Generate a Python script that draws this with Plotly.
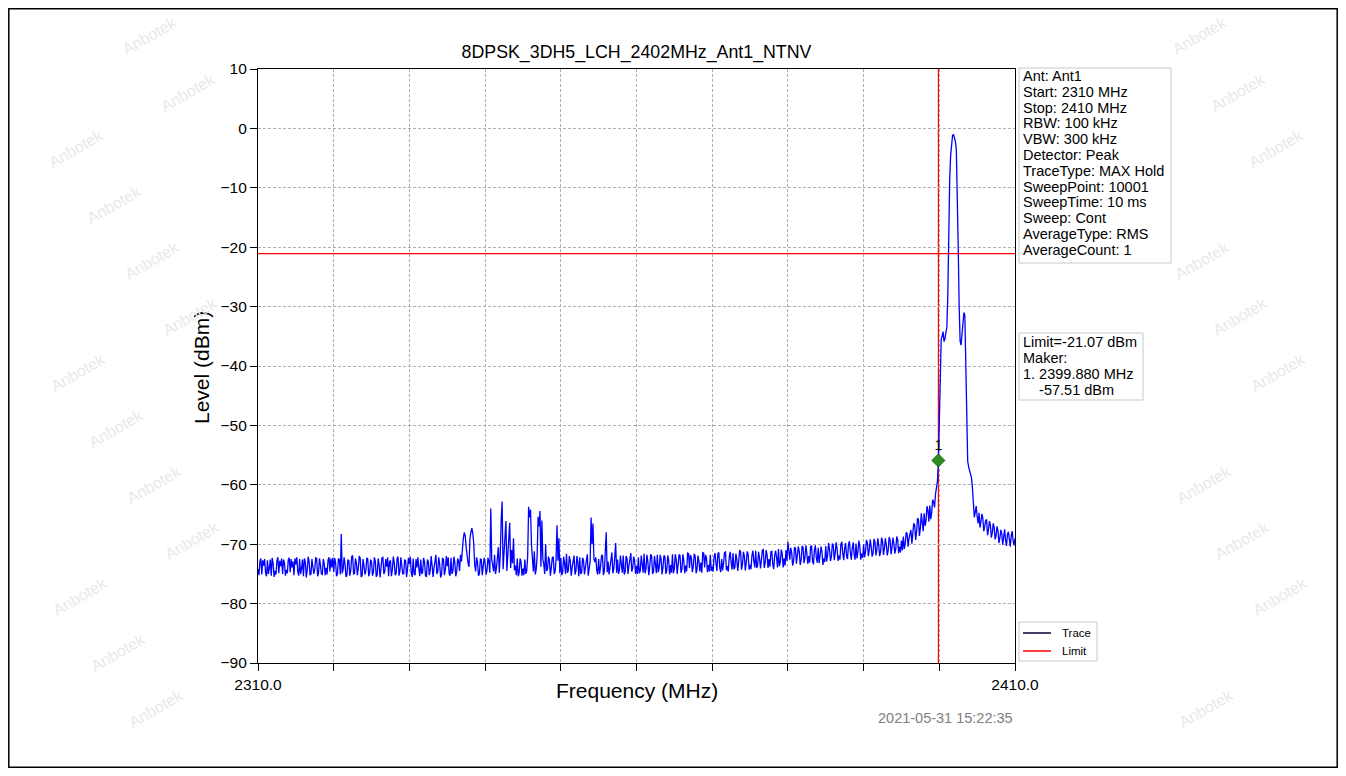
import plotly.graph_objects as go

# ---------------- data ----------------
title_text = "8DPSK_3DH5_LCH_2402MHz_Ant1_NTNV"
freq_start = 2310.0
freq_stop = 2410.0
freq_step = 0.125  # MHz between listed trace points

# trace levels (dBm) on the 0.25 MHz grid, one row per 5 MHz, last value at 2410 MHz
level_rows = [
    [-74.2, -72.9, -75.1, -73.6, -74.8, -72.7, -74.0, -75.3, -73.2, -74.5, -72.8, -74.9, -73.7, -75.0, -73.1, -74.3, -72.6, -74.7, -73.9, -75.2],
    [-73.4, -74.6, -72.5, -74.1, -75.4, -73.0, -74.4, -72.9, -75.0, -73.8, -74.2, -72.4, -74.8, -73.5, -75.1, -73.3, -74.0, -72.7, -74.6, -73.9],
    [-74.7, -73.1, -75.0, -72.6, -68.3, -74.2, -73.4, -75.2, -72.8, -74.5, -71.9, -74.9, -73.2, -74.1, -72.3, -75.3, -73.6, -74.4, -72.5, -74.8],
    [-73.0, -74.7, -72.9, -75.1, -73.5, -74.0, -72.2, -74.6, -73.8, -75.4, -72.7, -74.3, -73.1, -74.9, -72.1, -74.5, -73.7, -75.0, -72.8, -74.2],
    [-73.3, -74.8, -72.4, -75.2, -73.9, -74.1, -72.6, -74.7, -73.0, -75.5, -72.9, -74.4, -73.6, -74.0, -71.8, -74.6, -73.4, -75.1, -72.5, -74.3],
    [-73.7, -74.9, -72.3, -74.5, -73.1, -74.6, -72.8, -71.8, -70.2, -68.0, -70.5, -73.2, -69.0, -67.3, -69.8, -74.6, -73.0, -75.0, -72.6, -74.1],
    [-73.2, -74.4, -72.9, -64.0, -73.5, -71.8, -74.0, -70.5, -72.0, -62.8, -71.5, -66.1, -72.3, -66.4, -71.0, -69.0, -73.6, -72.4, -74.8, -73.0],
    [-74.1, -72.6, -74.5, -63.7, -64.2, -73.0, -71.2, -74.3, -65.4, -64.4, -66.0, -73.4, -70.0, -74.2, -72.7, -73.9, -72.1, -74.6, -66.8, -69.0],
    [-72.3, -74.7, -73.2, -71.6, -74.4, -72.8, -73.9, -71.9, -74.5, -73.1, -72.2, -74.8, -72.7, -73.6, -71.7, -74.2, -65.5, -66.5, -73.0, -74.4],
    [-72.5, -73.8, -71.8, -74.6, -68.0, -72.9, -73.5, -71.4, -74.1, -69.8, -72.6, -74.3, -73.0, -71.9, -74.7, -72.4, -73.6, -71.5, -74.0, -72.8],
    [-73.7, -72.2, -74.5, -73.0, -71.6, -74.2, -72.9, -73.8, -72.0, -74.6, -73.3, -71.8, -74.0, -72.5, -73.9, -72.1, -74.4, -72.7, -73.5, -71.7],
    [-74.1, -72.6, -73.4, -71.9, -74.3, -72.8, -73.6, -71.5, -74.0, -72.3, -73.7, -72.0, -74.2, -72.9, -73.1, -71.4, -73.9, -72.4, -73.5, -71.8],
    [-73.8, -72.1, -73.3, -71.6, -74.0, -72.5, -73.2, -71.3, -73.7, -72.2, -73.0, -71.5, -73.9, -72.6, -72.9, -71.2, -73.4, -72.0, -73.1, -71.7],
    [-73.5, -71.9, -72.8, -71.1, -73.6, -72.3, -72.7, -70.9, -73.2, -71.8, -72.5, -71.3, -73.4, -72.0, -72.2, -70.8, -73.0, -71.6, -72.4, -71.0],
    [-69.6, -72.6, -71.4, -72.9, -70.7, -72.1, -71.2, -72.7, -70.5, -72.3, -71.5, -72.0, -70.4, -72.8, -71.0, -72.2, -70.6, -71.9, -71.3, -72.4],
    [-70.3, -71.8, -70.9, -72.1, -70.2, -71.5, -70.8, -71.9, -70.0, -71.6, -70.7, -72.0, -70.1, -71.4, -70.6, -71.7, -69.9, -71.2, -70.5, -71.6],
    [-70.0, -71.3, -69.8, -71.0, -70.4, -71.5, -69.6, -70.9, -70.2, -71.2, -69.5, -70.7, -70.1, -71.0, -69.3, -70.5, -69.9, -70.8, -69.2, -70.4],
    [-69.4, -68.7, -69.9, -68.2, -69.0, -67.6, -68.5, -66.8, -67.9, -65.9, -67.2, -66.4, -64.8, -66.0, -64.3, -63.5, -64.6, -62.9, -61.5, -59.5],
    [-50.0, -35.5, -34.2, -35.4, -33.5, -16.0, -4.5, -1.2, -1.6, -3.6, -20.0, -35.8, -34.5, -31.0, -38.0, -56.0, -57.5, -58.8, -63.8, -64.6],
    [-65.3, -64.7, -66.2, -65.6, -67.0, -65.9, -67.5, -66.8, -68.1, -67.2, -68.6, -67.7, -69.0, -68.2, -68.8, -69.3, -68.4, -69.1, -68.6, -69.4],
]
level_last = -69.0

# levels read half-way between the grid points above (x.125, x.375, ...), same row layout
level_mid_rows = [
    [-75.2, -72.4, -72.7, -72.5, -75.4, -75.0, -72.6, -72.3, -75.5, -75.1, -72.2, -72.8, -72.4, -72.6, -75.3, -74.9, -72.3, -72.5, -72.9, -72.4],
    [-72.2, -75.3, -75.0, -72.6, -72.4, -75.6, -72.1, -75.2, -72.5, -75.0, -72.3, -75.4, -72.4, -75.0, -72.5, -75.2, -75.1, -72.2, -72.4, -72.3],
    [-72.3, -75.4, -72.4, -75.1, -74.9, -72.2, -75.5, -72.6, -75.3, -72.1, -75.0, -72.4, -75.2, -72.0, -75.5, -72.5, -75.1, -72.3, -75.4, -72.6],
    [-75.3, -72.2, -75.5, -72.4, -75.6, -72.3, -75.0, -72.5, -72.2, -73.0, -75.4, -72.1, -75.2, -72.4, -75.3, -72.2, -75.0, -72.6, -75.5, -72.3],
    [-72.1, -75.5, -75.0, -72.5, -72.2, -75.4, -75.0, -72.3, -75.3, -72.6, -75.2, -72.0, -75.5, -72.3, -75.0, -72.2, -75.6, -72.4, -75.2, -72.0],
    [-72.2, -75.3, -75.0, -72.1, -75.4, -72.4, -74.5, -72.9, -69.0, -68.6, -72.4, -73.8, -68.0, -68.2, -73.5, -72.2, -75.3, -72.5, -75.2, -72.3],
    [-75.1, -72.3, -74.8, -72.5, -74.6, -75.0, -72.2, -74.8, -66.0, -74.2, -70.0, -74.5, -68.5, -74.0, -73.2, -74.4, -75.2, -75.4, -72.4, -75.3],
    [-75.2, -75.0, -72.0, -65.5, -70.0, -74.6, -75.1, -72.0, -67.0, -73.8, -72.5, -75.0, -74.5, -72.1, -75.3, -72.3, -75.0, -72.5, -72.8, -74.9],
    [-75.2, -72.1, -75.0, -74.8, -72.0, -75.3, -72.4, -75.1, -72.0, -75.4, -75.0, -72.3, -75.1, -72.2, -75.3, -72.9, -70.0, -72.5, -72.2, -75.1],
    [-75.0, -72.0, -75.2, -72.0, -74.7, -75.1, -72.1, -74.9, -72.2, -74.8, -75.0, -71.9, -74.8, -75.1, -72.0, -75.0, -72.0, -74.6, -72.1, -75.0],
    [-75.0, -74.9, -71.9, -74.8, -74.9, -71.8, -75.2, -71.7, -75.0, -72.0, -74.9, -74.7, -71.8, -75.1, -71.9, -75.0, -71.9, -75.1, -74.8, -74.9],
    [-71.7, -75.0, -71.8, -74.8, -71.7, -74.9, -74.6, -71.6, -71.8, -74.7, -71.6, -74.9, -71.9, -74.6, -74.8, -71.5, -71.8, -74.7, -74.6, -74.5],
    [-74.6, -71.5, -74.5, -71.4, -74.7, -74.4, -71.4, -74.4, -74.6, -71.3, -74.3, -74.2, -71.6, -74.5, -71.1, -74.3, -71.3, -74.4, -71.2, -74.3],
    [-74.2, -71.1, -73.9, -74.0, -71.3, -74.1, -71.0, -74.0, -71.0, -74.0, -73.8, -71.2, -74.2, -71.1, -73.9, -73.7, -70.9, -73.9, -73.6, -72.8],
    [-71.9, -70.6, -73.6, -70.5, -73.3, -70.4, -73.5, -70.3, -73.2, -70.2, -73.3, -73.1, -70.3, -73.4, -70.2, -73.1, -73.2, -70.4, -73.5, -73.0],
    [-72.9, -69.8, -72.8, -69.9, -72.7, -69.7, -72.8, -72.6, -69.6, -72.7, -69.8, -72.5, -69.5, -72.6, -69.7, -72.6, -72.4, -69.4, -72.6, -72.3],
    [-72.2, -69.3, -72.0, -69.2, -72.1, -69.1, -71.9, -69.0, -72.0, -68.9, -71.8, -69.0, -71.9, -68.8, -71.7, -68.9, -71.6, -68.7, -71.5, -71.4],
    [-71.0, -70.8, -68.0, -70.4, -68.0, -69.9, -66.5, -69.3, -65.6, -68.6, -64.8, -67.8, -66.9, -63.6, -66.2, -65.8, -62.5, -63.8, -60.4, -56.5],
    [-40.0, -35.0, -35.9, -34.3, -28.0, -8.5, -2.0, -1.0, -2.2, -10.0, -30.0, -36.5, -32.5, -31.5, -48.0, -57.0, -58.0, -60.5, -65.5, -63.6],
    [-66.5, -67.2, -64.9, -67.8, -66.0, -68.5, -66.1, -68.9, -66.5, -69.2, -67.0, -69.8, -67.6, -70.1, -67.5, -70.3, -67.9, -70.4, -67.8, -70.2],
]

limit_level = -21.07
marker_freq = 2399.88
marker_plot_level = -55.9
marker_label = "1"

x_tick_values = [2310, 2320, 2330, 2340, 2350, 2360, 2370, 2380, 2390, 2400, 2410]
x_tick_labels = ["2310.0", "", "", "", "", "", "", "", "", "", "2410.0"]
y_tick_values = [-90, -80, -70, -60, -50, -40, -30, -20, -10, 0, 10]
y_tick_labels = ["\u221290", "\u221280", "\u221270", "\u221260", "\u221250", "\u221240",
                 "\u221230", "\u221220", "\u221210", "0", "10"]

info_lines = ["Ant: Ant1", "Start: 2310 MHz", "Stop: 2410 MHz", "RBW: 100 kHz", "VBW: 300 kHz",
              "Detector: Peak", "TraceType: MAX Hold", "SweepPoint: 10001", "SweepTime: 10 ms",
              "Sweep: Cont", "AverageType: RMS", "AverageCount: 1"]
marker_lines = ["Limit=-21.07 dBm", "Maker:", "1. 2399.880 MHz", "    -57.51 dBm"]
legend_names = ["Trace", "Limit"]
x_title = "Frequency (MHz)"
y_title = "Level (dBm)"
timestamp = "2021-05-31 15:22:35"
watermark = "Anbotek"

# ---------------- build ----------------
levels = []
for row, mid_row in zip(level_rows, level_mid_rows):
    for a, b in zip(row, mid_row):
        levels.extend([a, b])
levels.append(level_last)
freqs = [freq_start + i * freq_step for i in range(len(levels))]

FONT = "Liberation Sans, Arial, sans-serif"
OFF = 8                      # page margin of the html body
W, H = 1346 - 2 * OFF, 776 - 2 * OFF
# plot area in page pixels
PL, PR, PT, PB = 258, 1015, 69, 663


def px(xp):
    return (xp - PL) / (PR - PL)


def py(yp):
    return (PB - yp) / (PB - PT)


fig = go.Figure()

fig.add_trace(go.Scatter(x=freqs, y=levels, mode="lines", name=legend_names[0],
                         line=dict(color="#0000ff", width=1.3), showlegend=False,
                         hoverinfo="skip"))
fig.add_trace(go.Scatter(x=[marker_freq], y=[marker_plot_level], mode="markers+text",
                         text=[marker_label], textposition="top center",
                         textfont=dict(family=FONT, size=14, color="black"),
                         marker=dict(symbol="diamond", size=10, color="#2e8b22",
                                     line=dict(color="#1f6a17", width=1)),
                         showlegend=False))

annotations = []
shapes = []

# limit line and marker line (data coordinates)
shapes.append(dict(type="line", xref="x", yref="y", x0=freq_start, x1=freq_stop,
                   y0=limit_level, y1=limit_level, line=dict(color="#ff0000", width=1.2), layer="above"))
shapes.append(dict(type="line", xref="x", yref="y", x0=marker_freq, x1=marker_freq,
                   y0=y_tick_values[0], y1=y_tick_values[-1], line=dict(color="#ff0000", width=1.2),
                   layer="below"))


def text_at(x, y, text, size, color="black", xanchor="left", angle=0):
    annotations.append(dict(xref="paper", yref="paper", x=px(x), y=py(y), xanchor=xanchor,
                            yanchor="middle", text=text, showarrow=False, textangle=angle,
                            font=dict(family=FONT, size=size, color=color)))


# info box
shapes.append(dict(type="rect", xref="paper", yref="paper", x0=px(1019), x1=px(1171), y0=py(263), y1=py(68),
                   line=dict(color="#c8c8c8", width=1), fillcolor="white", layer="above"))
for i, line in enumerate(info_lines):
    text_at(1021, 76 + 15.8 * i, line, 14.5)

# marker box
shapes.append(dict(type="rect", xref="paper", yref="paper", x0=px(1019), x1=px(1143), y0=py(400), y1=py(333),
                   line=dict(color="#c8c8c8", width=1), fillcolor="white", layer="above"))
for i, line in enumerate(marker_lines):
    text_at(1021, 342 + 16.1 * i, line.replace(" ", "&nbsp;") if line.startswith(" ") else line, 14.5)

# legend box
shapes.append(dict(type="rect", xref="paper", yref="paper", x0=px(1019), x1=px(1097), y0=py(661), y1=py(622),
                   line=dict(color="#c8c8c8", width=1), fillcolor="white", layer="above"))
legend_colors = ["#000033", "#ff0000"]
for i, (name, col) in enumerate(zip(legend_names, legend_colors)):
    yy = 633 + 18 * i
    shapes.append(dict(type="line", xref="paper", yref="paper", x0=px(1023), x1=px(1051), y0=py(yy), y1=py(yy),
                       line=dict(color=col, width=1.5), layer="above"))
    text_at(1060, yy, name, 11.5)

# axis titles and timestamp
text_at((PL + PR) / 2, 690, x_title, 21, xanchor="center")
text_at(201, 368, y_title, 21, xanchor="center", angle=-90)
text_at(1015, 718, timestamp, 14.5, color="#808080", xanchor="right")

# faint watermark in the margins (kept fully inside the frame)
for j in range(13):
    yy = 36 + 56 * j
    for k in range(-1, 11):
        xx = (38 * j) % 150 + 150 * k
        inside = 200 < xx < 1185 and 30 < yy < 712
        if inside or xx < 55 or xx > 1295 or yy > 740:
            continue
        annotations.append(dict(xref="paper", yref="paper", x=px(xx), y=py(yy), xanchor="center",
                                yanchor="middle", text=watermark, textangle=-30, showarrow=False,
                                font=dict(family=FONT, size=16, color="#e9e9e9")))

# outer frame
shapes.append(dict(type="rect", xref="paper", yref="paper",
                   x0=px(OFF + 0.8), x1=px(OFF + W - 0.8), y0=py(OFF + H - 0.8), y1=py(OFF + 0.8),
                   line=dict(color="black", width=1.5), layer="above"))

fig.update_layout(
    width=W, height=H,
    margin=dict(l=PL - OFF, r=W - (PR - OFF), t=PT - OFF, b=H - (PB - OFF), autoexpand=False),
    paper_bgcolor="white", plot_bgcolor="white",
    font=dict(family=FONT, color="black"),
    title=dict(text=title_text, x=((PL + PR) / 2 - OFF) / W, xanchor="center",
               y=1 - (52 - OFF) / H, yanchor="middle",
               font=dict(family=FONT, size=17.8, color="black")),
    xaxis=dict(range=[freq_start, freq_stop], tickvals=x_tick_values, ticktext=x_tick_labels,
               showline=True, linecolor="black", linewidth=1.2, mirror=True,
               ticks="outside", ticklen=7, tickcolor="black", tickwidth=1.2,
               tickfont=dict(family=FONT, size=15.5, color="black"),
               showgrid=True, gridcolor="#b0b0b0", griddash="3px,2px", gridwidth=0.8,
               zeroline=False),
    yaxis=dict(range=[y_tick_values[0], y_tick_values[-1]], tickvals=y_tick_values, ticktext=y_tick_labels,
               showline=True, linecolor="black", linewidth=1.2, mirror=True,
               ticks="outside", ticklen=7, tickcolor="black", tickwidth=1.2,
               tickfont=dict(family=FONT, size=15.5, color="black"),
               showgrid=True, gridcolor="#b0b0b0", griddash="3px,2px", gridwidth=0.8,
               zeroline=False),
    annotations=annotations,
    shapes=shapes,
    showlegend=False,
)

fig.write_html("out.html")
